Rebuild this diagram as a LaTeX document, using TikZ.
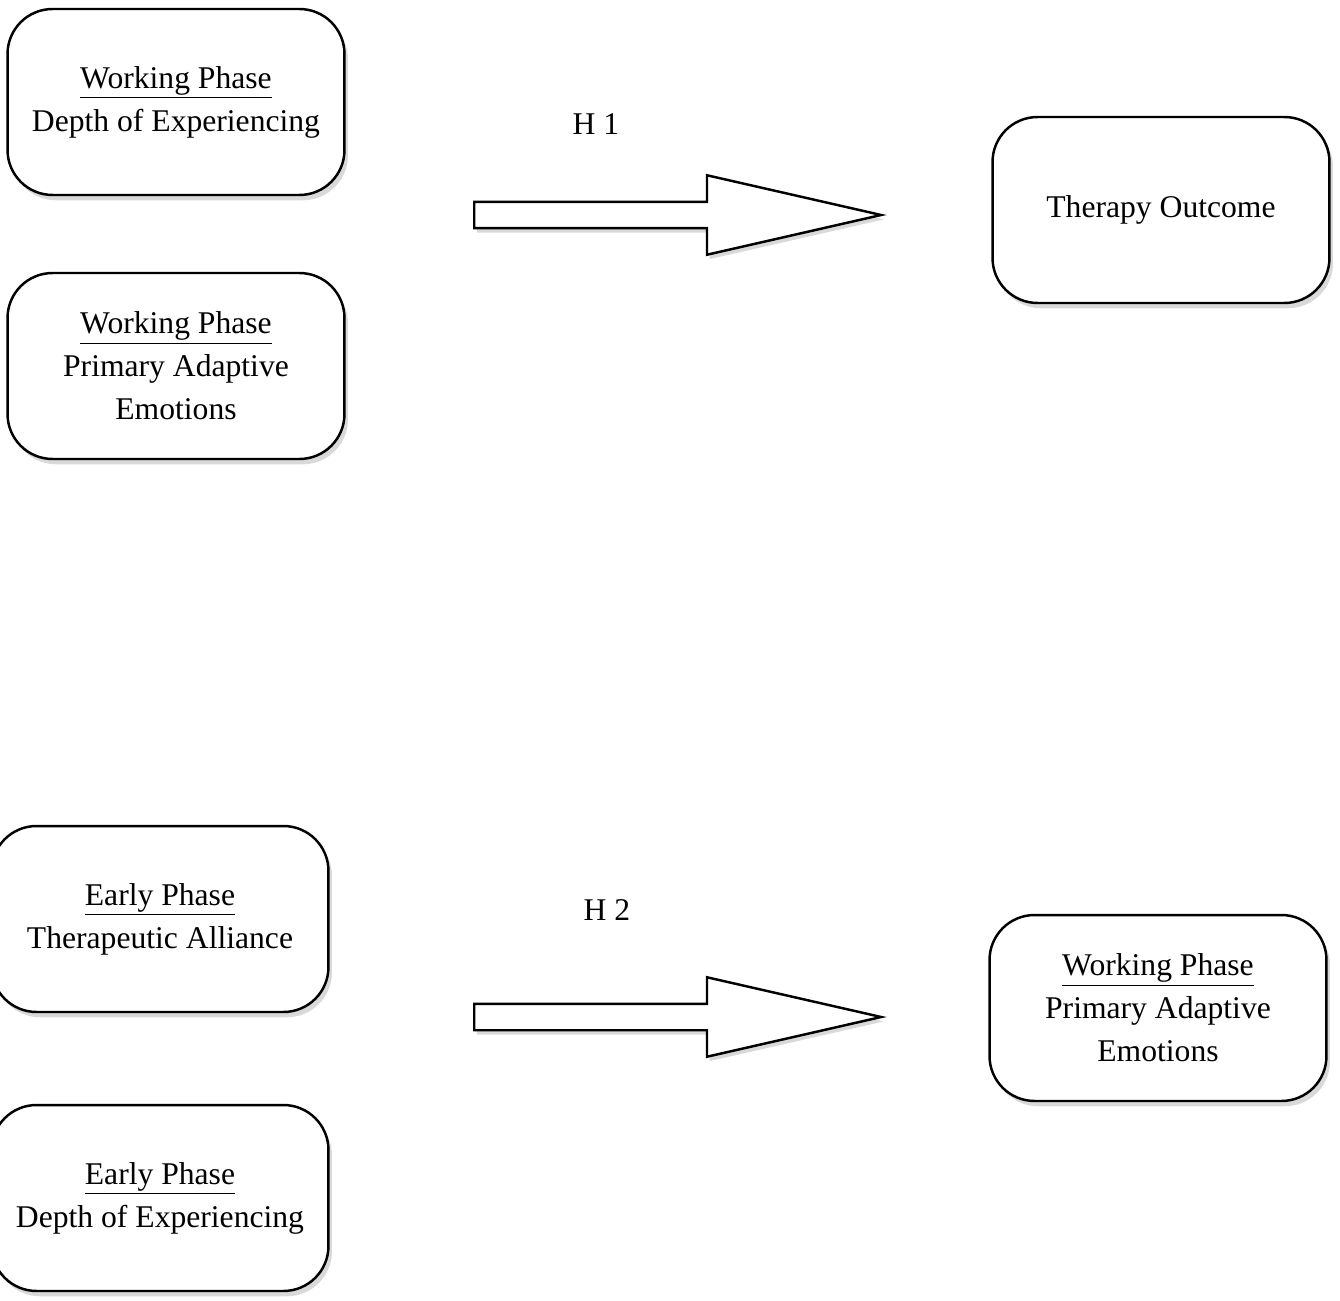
\documentclass[tikz,border=0pt]{standalone}
\usepackage{fontspec}
\setmainfont{Liberation Serif}
\usetikzlibrary{shapes.arrows, shadows}
\tikzset{
  varbox/.style ={draw, rounded corners=0.9cm, line width=1.4pt, fill=white,
                  minimum width=6.74cm, minimum height=3.72cm, align=center,
                  inner sep=0pt, font=\fontsize{18}{24.5}\selectfont,
                  drop shadow={shadow xshift=2pt, shadow yshift=-3pt,
                               opacity=0.3}},
  bigarr/.style ={draw, single arrow, line width=1.4pt, fill=white,
                  minimum height=8.14cm, minimum width=1.54cm,
                  inner sep=0.24cm, single arrow head extend=0.53cm,
                  single arrow tip angle=25.7, anchor=tail,
                  drop shadow={shadow xshift=1.5pt, shadow yshift=-2.5pt,
                               opacity=0.3}},
  hlbl/.style   ={font=\fontsize{18}{22}\selectfont},
}
\begin{document}
\begin{tikzpicture}[x=0.02cm, y=-0.02cm]
  \useasboundingbox (0,0) rectangle (1340,1301);
  % H1
  \node[varbox] (wpDepth) at (176,102) {\underline{Working Phase}\\ Depth of Experiencing};
  \node[varbox] (wpEmo) at (176,366) {\underline{Working Phase}\\ Primary Adaptive\\ Emotions};
  \node[varbox] (outcome) at (1161,210) {Therapy Outcome};
  \node[hlbl] (h1) at (596,124) {H 1};
  \node[bigarr] (arr1) at (473,215) {};
  % H2
  \node[varbox] (epAlliance) at (160,919) {\underline{Early Phase}\\ Therapeutic Alliance};
  \node[varbox] (epDepth) at (160,1198) {\underline{Early Phase}\\ Depth of Experiencing};
  \node[varbox] (wpEmoOut) at (1158,1008) {\underline{Working Phase}\\ Primary Adaptive\\ Emotions};
  \node[hlbl] (h2) at (607,910) {H 2};
  \node[bigarr] (arr2) at (473,1017) {};
\end{tikzpicture}
\end{document}
